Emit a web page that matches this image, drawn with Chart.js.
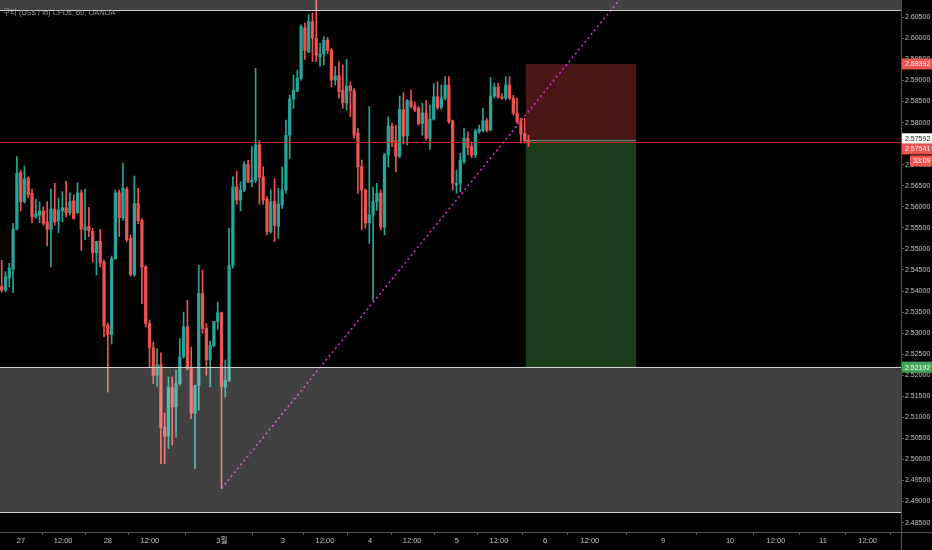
<!DOCTYPE html>
<html><head><meta charset="utf-8">
<script src="https://cdn.jsdelivr.net/npm/chart.js@4.4.1/dist/chart.umd.min.js"></script>
<style>html,body{margin:0;padding:0;background:#000;overflow:hidden}#wrap{width:932px;height:550px;position:relative}</style>
</head><body><div id="wrap"><canvas id="c"></canvas></div>
<script>
// ---- data (hourly candles) ----
const opens=[
2.5411,2.5402,2.5431,2.5452,2.5547,2.5681,2.5612,2.5668,2.5632,2.5576,
2.5580,2.5590,2.5564,2.5546,2.5594,2.5566,2.5590,2.5598,2.5586,2.5614,
2.5586,2.5633,2.5545,2.5554,2.5542,2.5491,2.5518,2.5469,2.5319,2.5297,
2.5477,2.5633,2.5574,2.5642,2.5525,2.5438,2.5608,2.5568,2.5457,2.5323,
2.5265,2.5200,2.5225,2.5077,2.5055,2.5171,2.5125,2.5180,2.5244,2.5315,
2.5216,2.5110,2.5176,2.5394,2.5311,2.5236,2.5270,2.5328,2.5348,2.5172,
2.5188,2.5461,2.5647,2.5616,2.5640,2.5701,2.5659,2.5663,2.5747,2.5671,
2.5618,2.5541,2.5612,2.5554,2.5604,2.5640,2.5770,2.5856,2.5875,2.5905,
2.6025,2.5968,2.6040,2.6000,2.5956,2.5963,2.5996,2.5972,2.5901,2.5911,
2.5877,2.5847,2.5887,2.5876,2.5775,2.5695,2.5640,2.5562,2.5580,2.5612,
2.5632,2.5552,2.5723,2.5792,2.5757,2.5720,2.5831,2.5768,2.5852,2.5839,
2.5834,2.5798,2.5823,2.5763,2.5808,2.5861,2.5836,2.5858,2.5889,2.5804,
2.5652,2.5656,2.5707,2.5763,2.5743,2.5723,2.5778,2.5781,2.5804,2.5782,
2.5863,2.5884,2.5861,2.5858,2.5889,2.5858,2.5823,2.5804,2.5774,2.5757];
const highs=[
2.5473,2.5446,2.5466,2.5561,2.5719,2.5687,2.5697,2.5671,2.5642,2.5618,
2.5612,2.5600,2.5612,2.5642,2.5656,2.5621,2.5636,2.5661,2.5633,2.5628,
2.5657,2.5640,2.5642,2.5599,2.5549,2.5518,2.5546,2.5473,2.5324,2.5483,
2.5640,2.5640,2.5704,2.5647,2.5533,2.5673,2.5644,2.5572,2.5461,2.5331,
2.5279,2.5263,2.5253,2.5110,2.5196,2.5196,2.5212,2.5287,2.5350,2.5378,
2.5267,2.5176,2.5461,2.5450,2.5323,2.5281,2.5328,2.5374,2.5350,2.5236,
2.5549,2.5671,2.5685,2.5659,2.5707,2.5711,2.5743,2.5929,2.5757,2.5695,
2.5624,2.5641,2.5667,2.5644,2.5695,2.5806,2.5865,2.5913,2.5925,2.6032,
2.6036,2.6056,2.6060,2.6125,2.5988,2.6004,2.6002,2.5976,2.5933,2.5945,
2.5937,2.5950,2.5897,2.5881,2.5786,2.5711,2.5642,2.5838,2.5647,2.5656,
2.5640,2.5727,2.5814,2.5798,2.5794,2.5863,2.5871,2.5855,2.5877,2.5849,
2.5838,2.5846,2.5852,2.5842,2.5893,2.5897,2.5889,2.5909,2.5909,2.5806,
2.5687,2.5727,2.5786,2.5778,2.5754,2.5784,2.5794,2.5834,2.5810,2.5907,
2.5893,2.5893,2.5868,2.5909,2.5909,2.5865,2.5858,2.5810,2.5810,2.5770];
const lows=[
2.5397,2.5398,2.5410,2.5396,2.5545,2.5590,2.5609,2.5621,2.5562,2.5573,
2.5562,2.5556,2.5507,2.5457,2.5556,2.5538,2.5564,2.5576,2.5580,2.5570,
2.5584,2.5497,2.5522,2.5529,2.5469,2.5438,2.5457,2.5291,2.5160,2.5274,
2.5475,2.5529,2.5568,2.5517,2.5435,2.5435,2.5560,2.5370,2.5315,2.5220,
2.5180,2.5174,2.4990,2.4990,2.5026,2.5034,2.5053,2.5176,2.5240,2.5212,
2.5097,2.4978,2.5117,2.5299,2.5200,2.5172,2.5267,2.5309,2.4931,2.5148,
2.5184,2.5454,2.5606,2.5590,2.5636,2.5657,2.5647,2.5657,2.5606,2.5606,
2.5533,2.5537,2.5517,2.5525,2.5596,2.5632,2.5715,2.5834,2.5873,2.5901,
2.5950,2.5966,2.5945,2.5945,2.5934,2.5937,2.5964,2.5885,2.5889,2.5858,
2.5834,2.5830,2.5814,2.5763,2.5632,2.5545,2.5549,2.5513,2.5378,2.5592,
2.5545,2.5533,2.5695,2.5743,2.5683,2.5717,2.5749,2.5747,2.5834,2.5826,
2.5794,2.5770,2.5758,2.5736,2.5806,2.5831,2.5831,2.5854,2.5798,2.5640,
2.5632,2.5636,2.5703,2.5723,2.5717,2.5717,2.5774,2.5778,2.5778,2.5781,
2.5858,2.5858,2.5855,2.5854,2.5854,2.5818,2.5798,2.5751,2.5751,2.5743];
const closes=[
2.5402,2.5434,2.5454,2.5547,2.5680,2.5612,2.5666,2.5628,2.5576,2.5583,
2.5590,2.5561,2.5546,2.5594,2.5564,2.5592,2.5598,2.5586,2.5612,2.5572,
2.5633,2.5547,2.5552,2.5543,2.5491,2.5518,2.5467,2.5317,2.5297,2.5477,
2.5633,2.5574,2.5644,2.5522,2.5439,2.5608,2.5567,2.5457,2.5323,2.5266,
2.5200,2.5225,2.5076,2.5055,2.5171,2.5125,2.5180,2.5244,2.5315,2.5216,
2.5110,2.5176,2.5394,2.5311,2.5236,2.5271,2.5328,2.5348,2.5174,2.5188,
2.5461,2.5647,2.5616,2.5640,2.5701,2.5659,2.5663,2.5747,2.5671,2.5616,
2.5541,2.5612,2.5556,2.5606,2.5640,2.5770,2.5856,2.5877,2.5905,2.6028,
2.5971,2.6040,2.6000,2.5960,2.5963,2.5996,2.5971,2.5901,2.5911,2.5873,
2.5847,2.5887,2.5876,2.5770,2.5695,2.5640,2.5562,2.5580,2.5612,2.5632,
2.5552,2.5723,2.5792,2.5754,2.5720,2.5831,2.5768,2.5852,2.5838,2.5830,
2.5798,2.5823,2.5763,2.5808,2.5861,2.5836,2.5858,2.5889,2.5802,2.5656,
2.5656,2.5711,2.5763,2.5741,2.5723,2.5780,2.5784,2.5804,2.5782,2.5863,
2.5884,2.5860,2.5858,2.5889,2.5858,2.5822,2.5802,2.5773,2.5757,2.5754];

// time axis labels (bar-index positions)
const xTickPos=[5.1,16.2,28.0,39.1,58.1,74.2,85.3,97.2,108.3,120.1,131.2,143.4,155.2,174.5,192.2,204.3,216.7,228.5];
const xTickLabels=['27','12:00','28','12:00','3월','3','12:00','4','12:00','5','12:00','6','12:00','9','10','12:00','11','12:00'];
const xRange=[-0.45,237.3];
const yRange=[2.48277,2.60911];
const yStep=0.005;

// drawings
const currentPrice=2.57541;
const entryPrice=2.57592;
const stopPrice=2.59392;
const targetPrice=2.52192;
const positionRange=[138.3,167.4];
const grayZones=[[2.6500,2.6067],[2.5220,2.4875]];
const trendX=[58,170];
const trendY=[2.4931,2.6169];
const countdown='33:09';
const title='구리 (US$ / lb) CFDs, 60, OANDA';

const UP='#26a69a', DOWN='#ef5350';
const FONT="'Liberation Sans Narrow','Liberation Sans','Noto Sans CJK KR',sans-serif";

const colors=opens.map((o,i)=>closes[i]>=o?UP:DOWN);
const wickData=opens.map((o,i)=>({x:i,y:[lows[i],highs[i]]}));
const bodyData=opens.map((o,i)=>({x:i,y:[Math.min(o,closes[i]),Math.max(o,closes[i])]}));

const overlay={
  id:'overlay',
  beforeDatasetsDraw(chart){
    const {ctx,chartArea:a,scales:{x,y}}=chart;
    ctx.save();
    ctx.beginPath();ctx.rect(a.left,a.top,a.right-a.left,a.bottom-a.top);ctx.clip();
    const x0=x.getPixelForValue(positionRange[0]),x1=x.getPixelForValue(positionRange[1]);
    const yS=y.getPixelForValue(stopPrice),yE=y.getPixelForValue(entryPrice),yT=y.getPixelForValue(targetPrice);
    ctx.fillStyle='#4a1616';ctx.fillRect(x0,yS,x1-x0,yE-yS);
    ctx.fillStyle='#1d3c1e';ctx.fillRect(x0,yE,x1-x0,yT-yE);
    ctx.strokeStyle='#8c8c8c';ctx.lineWidth=1;
    ctx.beginPath();ctx.moveTo(x0,Math.round(yE)+0.5);ctx.lineTo(x1,Math.round(yE)+0.5);ctx.stroke();
    ctx.restore();
  },
  afterDatasetsDraw(chart){
    const {ctx,chartArea:a,scales:{x,y}}=chart;
    ctx.save();
    ctx.beginPath();ctx.rect(a.left,a.top,a.right-a.left,a.bottom-a.top);ctx.clip();
    grayZones.forEach(([hi,lo])=>{
      const yh=y.getPixelForValue(hi),yl=y.getPixelForValue(lo);
      ctx.fillStyle='rgba(225,225,225,0.29)';
      ctx.fillRect(a.left,yh,a.right-a.left,yl-yh);
      ctx.strokeStyle='#cfcfcf';ctx.lineWidth=1.2;
      ctx.beginPath();
      ctx.moveTo(a.left,Math.round(yh)+0.5);ctx.lineTo(a.right,Math.round(yh)+0.5);
      ctx.moveTo(a.left,Math.round(yl)+0.5);ctx.lineTo(a.right,Math.round(yl)+0.5);
      ctx.stroke();
    });
    const yc=Math.round(y.getPixelForValue(currentPrice))+0.5;
    ctx.strokeStyle='rgba(205,45,45,0.9)';ctx.lineWidth=1;
    ctx.beginPath();ctx.moveTo(a.left,yc);ctx.lineTo(a.right,yc);ctx.stroke();
    ctx.restore();
  },
  afterDraw(chart){
    const {ctx,chartArea:a,scales:{y}}=chart;
    const W=chart.width,H=chart.height;
    ctx.save();
    ctx.strokeStyle='#555';ctx.lineWidth=1;
    ctx.beginPath();
    ctx.moveTo(Math.round(a.right)+0.5,0);ctx.lineTo(Math.round(a.right)+0.5,H);
    ctx.moveTo(0,Math.round(a.bottom)+0.5);ctx.lineTo(W,Math.round(a.bottom)+0.5);
    ctx.stroke();
    // title
    ctx.font="7.5px 'Liberation Sans','Noto Sans CJK KR',sans-serif";
    ctx.fillStyle='#9c9c9c';ctx.textBaseline='middle';ctx.textAlign='left';
    ctx.fillText(title,3,13);
    // price labels
    const lab=(price,bg,fg,text,dy,x0)=>{
      const yy=y.getPixelForValue(price)+(dy||0);
      const left=x0||a.right+1;
      ctx.fillStyle=bg;ctx.fillRect(left,yy-5.5,W-left,11);
      ctx.fillStyle=fg;ctx.font='7px '+FONT;ctx.textBaseline='middle';ctx.textAlign='left';
      ctx.fillText(text,left+3,yy+0.5);
    };
    lab(stopPrice,'#ef5350','#fff',stopPrice.toFixed(5));
    lab(entryPrice,'#ffffff','#131722',entryPrice.toFixed(5),-1);
    lab(currentPrice,'#ef5350','#fff',currentPrice.toFixed(5),7);
    lab(currentPrice,'#ef5350','#fff',countdown,19,a.right+9);
    lab(targetPrice,'#43a55a','#fff',targetPrice.toFixed(5));
    ctx.restore();
  }
};

new Chart(document.getElementById('c'),{
  type:'bar',
  data:{datasets:[
    {type:'line',data:trendX.map((v,i)=>({x:v,y:trendY[i]})),borderColor:'#d12fd1',borderWidth:1.6,borderDash:[2,3],pointRadius:0,order:0},
    {type:'bar',data:bodyData,backgroundColor:colors,barThickness:2.6,minBarLength:1,grouped:false,borderWidth:0,order:1},
    {type:'bar',data:wickData,backgroundColor:colors,barThickness:1,grouped:false,borderWidth:0,order:2}
  ]},
  options:{
    responsive:true,maintainAspectRatio:false,animation:false,
    layout:{padding:0},
    plugins:{legend:{display:false},tooltip:{enabled:false}},
    scales:{
      x:{type:'linear',min:xRange[0],max:xRange[1],offset:false,
        afterBuildTicks(s){s.ticks=xTickPos.map(v=>({value:v}));},
        afterFit(s){s.height=18;s.paddingLeft=0;s.paddingRight=0;},
        grid:{display:true,drawOnChartArea:false,drawTicks:true,tickLength:3,color:'#666'},
        border:{display:false},
        ticks:{autoSkip:false,maxRotation:0,padding:1,color:'#c4c4c4',font:{size:7.5,family:FONT},
          callback:(v,i)=>xTickLabels[i]}},
      y:{type:'linear',position:'right',min:yRange[0],max:yRange[1],
        afterFit(s){s.width=31;s.paddingTop=0;s.paddingBottom=0;},
        grid:{display:true,drawOnChartArea:false,drawTicks:true,tickLength:3,color:'#666'},
        border:{display:false},
        ticks:{stepSize:yStep,includeBounds:false,autoSkip:false,padding:1,color:'#c4c4c4',font:{size:7,family:FONT},
          callback:v=>v.toFixed(5)}}
    }
  },
  plugins:[overlay]
});
</script></body></html>
